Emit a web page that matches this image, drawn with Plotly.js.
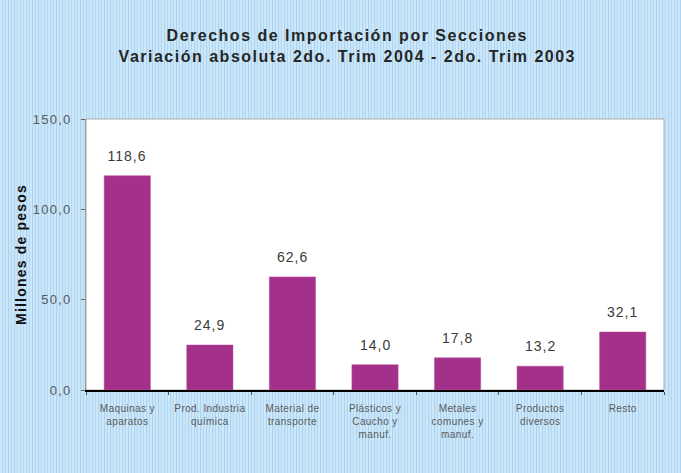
<!DOCTYPE html>
<html>
<head>
<meta charset="utf-8">
<script src="https://cdn.plot.ly/plotly-3.0.1.min.js"></script>
<style>
html,body{margin:0;padding:0;}
body{background-color:#c3e2f7;background-image:repeating-linear-gradient(90deg,#cbe9fb 0px,#cbe9fb 2px,#aed2f0 2px,#aed2f0 3px,#c6e6f8 3px,#c6e6f8 5px,#b8d6f2 5px,#b8d6f2 6px);}
#chart .gtitle{letter-spacing:1.5px;}
#chart .ytitle{letter-spacing:1.2px;}
#chart .annotation-text{letter-spacing:1px;}
#chart .ytick text{letter-spacing:1.2px;}
#chart .xtick text{letter-spacing:0.4px;}
</style>
</head>
<body>
<div id="chart" style="width:681px;height:473px;"></div>
<script>
const categories = [
  "Maquinas y<br>aparatos",
  "Prod. Industria<br>química",
  "Material de<br>transporte",
  "Plásticos y<br>Caucho y<br>manuf.",
  "Metales<br>comunes y<br>manuf.",
  "Productos<br>diversos",
  "Resto"
];
const values = [118.6, 24.9, 62.6, 14.0, 17.8, 13.2, 32.1];
const yTicks = [0, 50, 100, 150];

const labels = values.map(v => v.toFixed(1).replace('.', ','));

const trace = {
  type: 'bar',
  x: categories,
  y: values,
  marker: {color: '#a3318a', line: {color: '#c04aa0', width: 0.5}},
  hoverinfo: 'none'
};

const annotations = categories.map((c, i) => ({
  x: c, y: values[i], xref: 'x', yref: 'y',
  text: labels[i], showarrow: false,
  xanchor: 'center', yanchor: 'middle', yshift: 20,
  font: {family: 'Liberation Sans, Arial, sans-serif', size: 14, color: '#3a3a3a'}
}));

const layout = {
  width: 681,
  height: 473,
  paper_bgcolor: 'rgba(0,0,0,0)',
  plot_bgcolor: '#ffffff',
  separators: ',.',
  margin: {l: 86, r: 17, t: 119, b: 83},
  bargap: 0.44,
  showlegend: false,
  annotations: annotations,
  title: {
    text: '<b>Derechos de Importación por Secciones<br>Variación absoluta 2do. Trim 2004 - 2do. Trim 2003</b>',
    x: 0.51, xanchor: 'center',
    y: 0.913, yanchor: 'middle',
    font: {family: 'Liberation Sans, Arial, sans-serif', size: 16, color: '#262626'}
  },
  xaxis: {
    type: 'category',
    showgrid: false,
    showline: true,
    linecolor: '#000000',
    linewidth: 1.5,
    ticks: 'outside',
    ticklen: 3,
    tickcolor: '#555555',
    tickson: 'boundaries',
    ticklabelstandoff: 8,
    tickfont: {family: 'Liberation Sans, Arial, sans-serif', size: 10, color: '#5a5a5a'},
    tickangle: 0,
    fixedrange: true
  },
  yaxis: {
    range: [0, 150],
    tickvals: yTicks,
    tickformat: '.1f',
    showgrid: false,
    zeroline: false,
    showline: true,
    linecolor: '#999999',
    linewidth: 1,
    ticks: 'outside',
    ticklen: 4,
    tickcolor: '#666666',
    ticklabelstandoff: 7,
    tickfont: {family: 'Liberation Sans, Arial, sans-serif', size: 13, color: '#5a5a5a'},
    title: {
      text: '<b>Millones de pesos</b>',
      standoff: 8,
      font: {family: 'Liberation Sans, Arial, sans-serif', size: 14, color: '#111111'}
    },
    fixedrange: true
  },
  shapes: [{
    type: 'rect', xref: 'paper', yref: 'paper', x0: 0, x1: 1, y0: 0, y1: 1,
    line: {color: '#aaaaaa', width: 1}, layer: 'below'
  }]
};

Plotly.newPlot('chart', [trace], layout, {displayModeBar: false, staticPlot: true});
</script>
</body>
</html>
